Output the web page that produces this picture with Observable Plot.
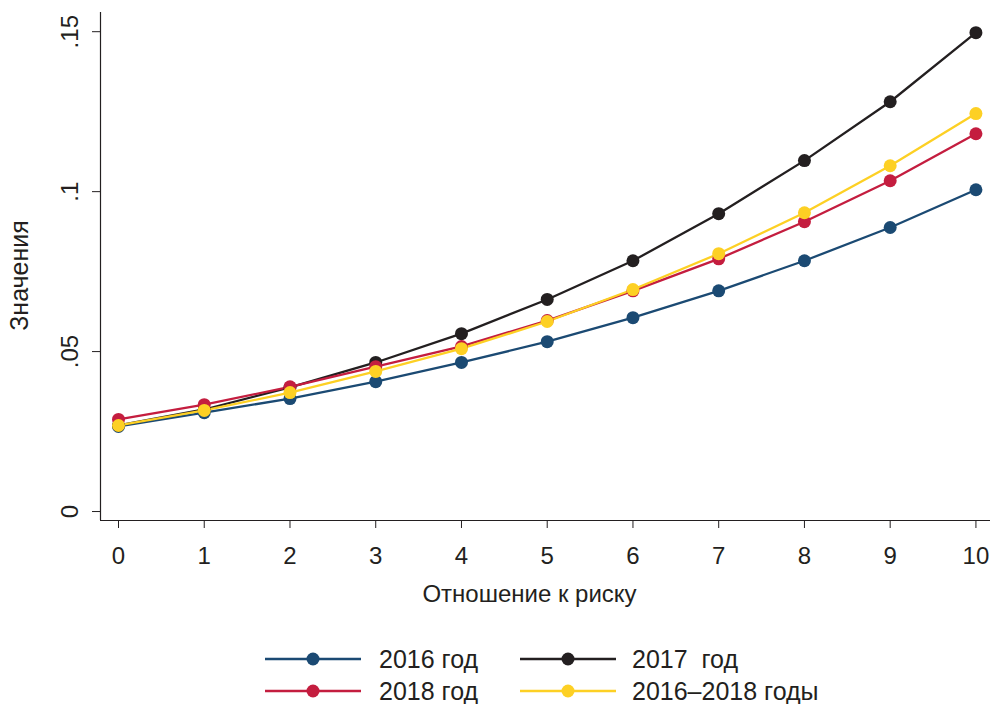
<!DOCTYPE html>
<html>
<head>
<meta charset="utf-8">
<script src="https://cdn.jsdelivr.net/npm/d3@7"></script>
<script src="https://cdn.jsdelivr.net/npm/@observablehq/plot@0.6"></script>
<style>
  html, body { margin: 0; padding: 0; background: #fff; }
  body { width: 991px; height: 704px; position: relative; overflow: hidden; font-family: "Liberation Sans", Arial, sans-serif; }
  #legend .item { position: absolute; display: flex; align-items: center; font-size: 25px; color: #231f20; white-space: pre; }
  #legend svg { display: block; }
</style>
</head>
<body>
<div id="chart"></div>
<div id="legend"></div>
<script>
const riskRatio = [0, 1, 2, 3, 4, 5, 6, 7, 8, 9, 10];
const seriesNames = ["2016 год", "2017  год", "2018 год", "2016–2018 годы"];
const values2016 = [0.0266, 0.0309, 0.0353, 0.0406, 0.0466, 0.0531, 0.0606, 0.0690, 0.0784, 0.0888, 0.1006];
const values2017 = [0.0269, 0.0319, 0.0388, 0.0466, 0.0556, 0.0663, 0.0784, 0.0931, 0.1097, 0.1281, 0.1497];
const values2018 = [0.0288, 0.0334, 0.0390, 0.0453, 0.0516, 0.0597, 0.0690, 0.0790, 0.0906, 0.1034, 0.1181];
const values2016to2018 = [0.0269, 0.0316, 0.0372, 0.0438, 0.0509, 0.0594, 0.0694, 0.0806, 0.0934, 0.1081, 0.1244];
const yTicks = [0, 0.05, 0.1, 0.15];
const yTickLabels = ["0", ".05", ".1", ".15"];
const xTicks = [0, 1, 2, 3, 4, 5, 6, 7, 8, 9, 10];
const xTitle = "Отношение к риску";
const yTitle = "Значения";

const colors = ["#1b4a73", "#231f20", "#c41d3f", "#fdd024"];
const seriesValues = [values2016, values2017, values2018, values2016to2018];
const data = [];
seriesNames.forEach((name, i) => {
  riskRatio.forEach((x, j) => data.push({series: name, x, y: seriesValues[i][j]}));
});

const xDomain = [-0.21, 10.17];
const yDomain = [-0.0028, 0.1560];

const chart = Plot.plot({
  width: 991,
  height: 615,
  marginLeft: 100,
  marginRight: 1,
  marginTop: 12,
  marginBottom: 95,
  style: {fontFamily: "Liberation Sans, Arial, sans-serif", fontSize: "24px", color: "#231f20", background: "#fff"},
  x: {domain: xDomain},
  y: {domain: yDomain},
  color: {domain: seriesNames, range: colors},
  marks: [
    Plot.ruleX([xDomain[0]], {stroke: "#231f20", strokeWidth: 1.2}),
    Plot.ruleY([yDomain[0]], {stroke: "#231f20", strokeWidth: 1.2}),
    Plot.axisX({ticks: xTicks, tickSize: 8, tickPadding: 18, tickFormat: d => String(d), label: null, stroke: "#231f20", fill: "#231f20", fontSize: 24}),
    Plot.axisY({ticks: yTicks, tickSize: 8, tickFormat: () => "", label: null, stroke: "#231f20"}),
    Plot.text(yTicks, {y: d => d, text: (d, i) => yTickLabels[i], frameAnchor: "left", dx: -30, rotate: -90, textAnchor: "middle", lineAnchor: "middle", fontSize: 24, fill: "#231f20"}),
    Plot.text([xTitle], {text: d => d, frameAnchor: "bottom", dx: -16, dy: 74, textAnchor: "middle", lineAnchor: "middle", fontSize: 24, fill: "#231f20"}),
    Plot.text([yTitle], {text: d => d, frameAnchor: "left", dx: -81, dy: 9, rotate: -90, textAnchor: "middle", lineAnchor: "middle", fontSize: 25, fill: "#231f20"}),
    Plot.line(data, {x: "x", y: "y", z: "series", stroke: "series", strokeWidth: 2.3}),
    Plot.dot(data, {x: "x", y: "y", fill: "series", r: 6.5, stroke: "none"})
  ]
});
document.getElementById("chart").appendChild(chart);

// legend
const legend = document.getElementById("legend");
const legendPos = [[265, 659], [520, 659], [265, 691], [520, 691]];
seriesNames.forEach((name, si) => {
  const [lx, ly] = legendPos[si];
  const item = document.createElement("div");
  item.className = "item";
  item.style.left = lx + "px";
  item.style.top = (ly - 16) + "px";
  item.style.height = "32px";
  const sw = d3.create("svg").attr("width", 96).attr("height", 32);
  sw.append("line").attr("x1", 0).attr("x2", 96).attr("y1", 16).attr("y2", 16).attr("stroke", colors[si]).attr("stroke-width", 2.3);
  sw.append("circle").attr("cx", 48).attr("cy", 16).attr("r", 6.5).attr("fill", colors[si]);
  item.appendChild(sw.node());
  const t = document.createElement("span");
  t.textContent = name;
  t.style.marginLeft = (si === 1 || si === 3 ? 16 : 18) + "px";
  item.appendChild(t);
  legend.appendChild(item);
});
</script>
</body>
</html>
